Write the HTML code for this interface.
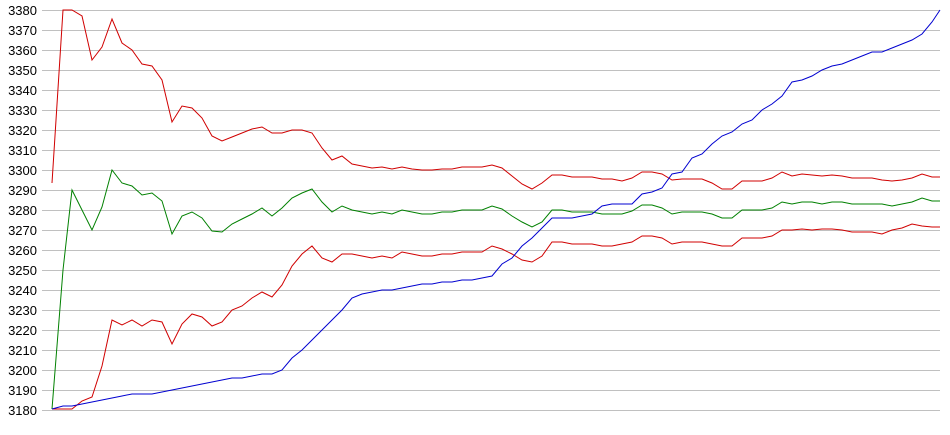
<!DOCTYPE html>
<html><head><style>
html,body{margin:0;padding:0;background:#fff;}
svg{display:block;}
text{font-family:"Liberation Sans",sans-serif;font-size:13px;fill:#000;}
</style></head><body>
<svg width="950" height="435" viewBox="0 0 950 435">
<g stroke="#c0c0c0" stroke-width="1">
<line x1="42" y1="10.5" x2="940" y2="10.5"/><line x1="42" y1="30.5" x2="940" y2="30.5"/><line x1="42" y1="50.5" x2="940" y2="50.5"/><line x1="42" y1="70.5" x2="940" y2="70.5"/><line x1="42" y1="90.5" x2="940" y2="90.5"/><line x1="42" y1="110.5" x2="940" y2="110.5"/><line x1="42" y1="130.5" x2="940" y2="130.5"/><line x1="42" y1="150.5" x2="940" y2="150.5"/><line x1="42" y1="170.5" x2="940" y2="170.5"/><line x1="42" y1="190.5" x2="940" y2="190.5"/><line x1="42" y1="210.5" x2="940" y2="210.5"/><line x1="42" y1="230.5" x2="940" y2="230.5"/><line x1="42" y1="250.5" x2="940" y2="250.5"/><line x1="42" y1="270.5" x2="940" y2="270.5"/><line x1="42" y1="290.5" x2="940" y2="290.5"/><line x1="42" y1="310.5" x2="940" y2="310.5"/><line x1="42" y1="330.5" x2="940" y2="330.5"/><line x1="42" y1="350.5" x2="940" y2="350.5"/><line x1="42" y1="370.5" x2="940" y2="370.5"/><line x1="42" y1="390.5" x2="940" y2="390.5"/><line x1="42" y1="410.5" x2="940" y2="410.5"/>
</g>
<g text-anchor="end">
<text x="37" y="15">3380</text><text x="37" y="35">3370</text><text x="37" y="55">3360</text><text x="37" y="75">3350</text><text x="37" y="95">3340</text><text x="37" y="115">3330</text><text x="37" y="135">3320</text><text x="37" y="155">3310</text><text x="37" y="175">3300</text><text x="37" y="195">3290</text><text x="37" y="215">3280</text><text x="37" y="235">3270</text><text x="37" y="255">3260</text><text x="37" y="275">3250</text><text x="37" y="295">3240</text><text x="37" y="315">3230</text><text x="37" y="335">3220</text><text x="37" y="355">3210</text><text x="37" y="375">3200</text><text x="37" y="395">3190</text><text x="37" y="415">3180</text>
</g>
<g fill="none" stroke-width="1">
<polyline stroke="#d00000" points="52,183 63,10 72,10 82,16 92,60 102,47 112,19 122,43 132,50 142,64 152,66 162,80 172,122 182,106 192,108 202,118 212,136 222,141 232,137 242,133 252,129 262,127 272,133 282,133 292,130 302,130 312,133 322,148 332,160 342,156 352,164 362,166 372,168 382,167 392,169 402,167 412,169 422,170 432,170 442,169 452,169 462,167 472,167 482,167 492,165 502,168 512,176 522,184 532,189 542,183 552,175 562,175 572,177 582,177 592,177 602,179 612,179 622,181 632,178 642,172 652,172 662,174 672,180 682,179 692,179 702,179 712,183 722,189 732,189 742,181 752,181 762,181 772,178 782,172 792,176 802,174 812,175 822,176 832,175 842,176 852,178 862,178 872,178 882,180 892,181 902,180 912,178 922,174 932,177 940,177"/>
<polyline stroke="#008000" points="52,409 63,270 72,190 82,210 92,230 102,207 112,170 122,183 132,186 142,195 152,193 162,201 172,234 182,216 192,212 202,218 212,231 222,232 232,224 242,219 252,214 262,208 272,216 282,208 292,198 302,193 312,189 322,202 332,212 342,206 352,210 362,212 372,214 382,212 392,214 402,210 412,212 422,214 432,214 442,212 452,212 462,210 472,210 482,210 492,206 502,209 512,216 522,222 532,227 542,222 552,210 562,210 572,212 582,212 592,212 602,214 612,214 622,214 632,211 642,205 652,205 662,208 672,214 682,212 692,212 702,212 712,214 722,218 732,218 742,210 752,210 762,210 772,208 782,202 792,204 802,202 812,202 822,204 832,202 842,202 852,204 862,204 872,204 882,204 892,206 902,204 912,202 922,198 932,201 940,201"/>
<polyline stroke="#d00000" points="52,409 63,409 72,409 82,401 92,397 102,366 112,320 122,325 132,320 142,326 152,320 162,322 172,344 182,324 192,314 202,317 212,326 222,322 232,310 242,306 252,298 262,292 272,297 282,285 292,266 302,254 312,246 322,258 332,262 342,254 352,254 362,256 372,258 382,256 392,258 402,252 412,254 422,256 432,256 442,254 452,254 462,252 472,252 482,252 492,246 502,249 512,254 522,260 532,262 542,256 552,242 562,242 572,244 582,244 592,244 602,246 612,246 622,244 632,242 642,236 652,236 662,238 672,244 682,242 692,242 702,242 712,244 722,246 732,246 742,238 752,238 762,238 772,236 782,230 792,230 802,229 812,230 822,229 832,229 842,230 852,232 862,232 872,232 882,234 892,230 902,228 912,224 922,226 932,227 940,227"/>
<polyline stroke="#0000d0" points="52,409 63,406 72,406 82,404 92,402 102,400 112,398 122,396 132,394 142,394 152,394 162,392 172,390 182,388 192,386 202,384 212,382 222,380 232,378 242,378 252,376 262,374 272,374 282,370 292,358 302,350 312,340 322,330 332,320 342,310 352,298 362,294 372,292 382,290 392,290 402,288 412,286 422,284 432,284 442,282 452,282 462,280 472,280 482,278 492,276 502,264 512,258 522,246 532,238 542,228 552,218 562,218 572,218 582,216 592,214 602,206 612,204 622,204 632,204 642,194 652,192 662,188 672,174 682,172 692,158 702,154 712,144 722,136 732,132 742,124 752,120 762,110 772,104 782,96 792,82 802,80 812,76 822,70 832,66 842,64 852,60 862,56 872,52 882,52 892,48 902,44 912,40 922,34 932,22 940,10"/>
</g>
</svg>
</body></html>
